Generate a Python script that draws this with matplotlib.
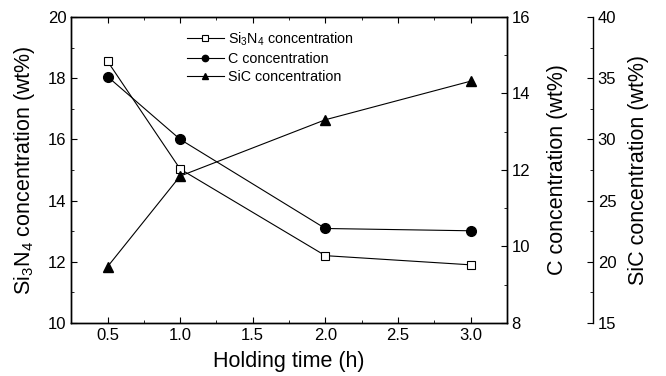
#!/usr/bin/env python3
"""Si3N4 / C / SiC concentration vs holding time, three y-axes."""
import matplotlib

matplotlib.use("Agg")
import matplotlib.pyplot as plt
from matplotlib.ticker import MultipleLocator

plt.rcParams["font.family"] = ["Liberation Sans", "DejaVu Sans"]
plt.rcParams["mathtext.fontset"] = "custom"
plt.rcParams["mathtext.rm"] = "Liberation Sans"
plt.rcParams["mathtext.it"] = "Liberation Sans"

hours = [0.5, 1.0, 2.0, 3.0]
si3n4 = [18.55, 15.03, 12.2, 11.9]    # left axis, wt%
carbon = [14.44, 12.8, 10.47, 10.41]  # first right axis, wt%
sic = [19.6, 27.0, 31.6, 34.75]       # second right axis, wt%

LABEL_FS = 15.5
TICK_FS = 12


def style_ticks(ax, **kw):
    ax.tick_params(which="both", direction="in", labelsize=TICK_FS, **kw)
    ax.tick_params(which="major", length=4)
    ax.tick_params(which="minor", length=2)


fig = plt.figure(figsize=(6.66, 3.76), dpi=100)
ax = fig.add_axes([0.107, 0.141, 0.654, 0.814])
axC = ax.twinx()
axS = ax.twinx()
axS.spines["right"].set_position(("outward", 62))
for a in (ax, axC, axS):
    for s in a.spines.values():
        s.set_linewidth(1.0)
for s in ("top", "left", "bottom"):
    axS.spines[s].set_visible(False)

kw = dict(color="black", lw=0.8)
l1, = ax.plot(hours, si3n4, marker="s", ms=6, mfc="white", mec="black", mew=0.8,
              label="Si$_3$N$_4$ concentration", **kw)
l2, = axC.plot(hours, carbon, marker="o", ms=7, mfc="black", mec="black",
               label="C concentration", **kw)
l3, = axS.plot(hours, sic, marker="^", ms=7, mfc="black", mec="black",
               label="SiC concentration", **kw)

ax.set_xlim(0.25, 3.25)
ax.set_ylim(10, 20)
axC.set_ylim(8, 16)
axS.set_ylim(15, 40)

ax.xaxis.set_major_locator(MultipleLocator(0.5))
ax.xaxis.set_minor_locator(MultipleLocator(0.25))
ax.yaxis.set_major_locator(MultipleLocator(2))
ax.yaxis.set_minor_locator(MultipleLocator(1))
axC.yaxis.set_major_locator(MultipleLocator(2))
axC.yaxis.set_minor_locator(MultipleLocator(1))
axS.yaxis.set_major_locator(MultipleLocator(5))
axS.yaxis.set_minor_locator(MultipleLocator(2.5))

style_ticks(ax, top=True)
style_ticks(axC)
style_ticks(axS)

ax.set_xlabel("Holding time (h)", fontsize=LABEL_FS, labelpad=6)
ax.set_ylabel("Si$_3$N$_4$ concentration (wt%)", fontsize=LABEL_FS, labelpad=8)
axC.set_ylabel("C concentration (wt%)", fontsize=LABEL_FS, labelpad=12)
axS.set_ylabel("SiC concentration (wt%)", fontsize=LABEL_FS, labelpad=8)

ax.legend(handles=[l1, l2, l3], loc="upper left", bbox_to_anchor=(0.252, 0.975),
          frameon=False, fontsize=10.3, handlelength=2.6, handletextpad=0.3,
          labelspacing=0.3, borderaxespad=0.0, markerscale=0.65)

fig.savefig("out.png", dpi=100)
